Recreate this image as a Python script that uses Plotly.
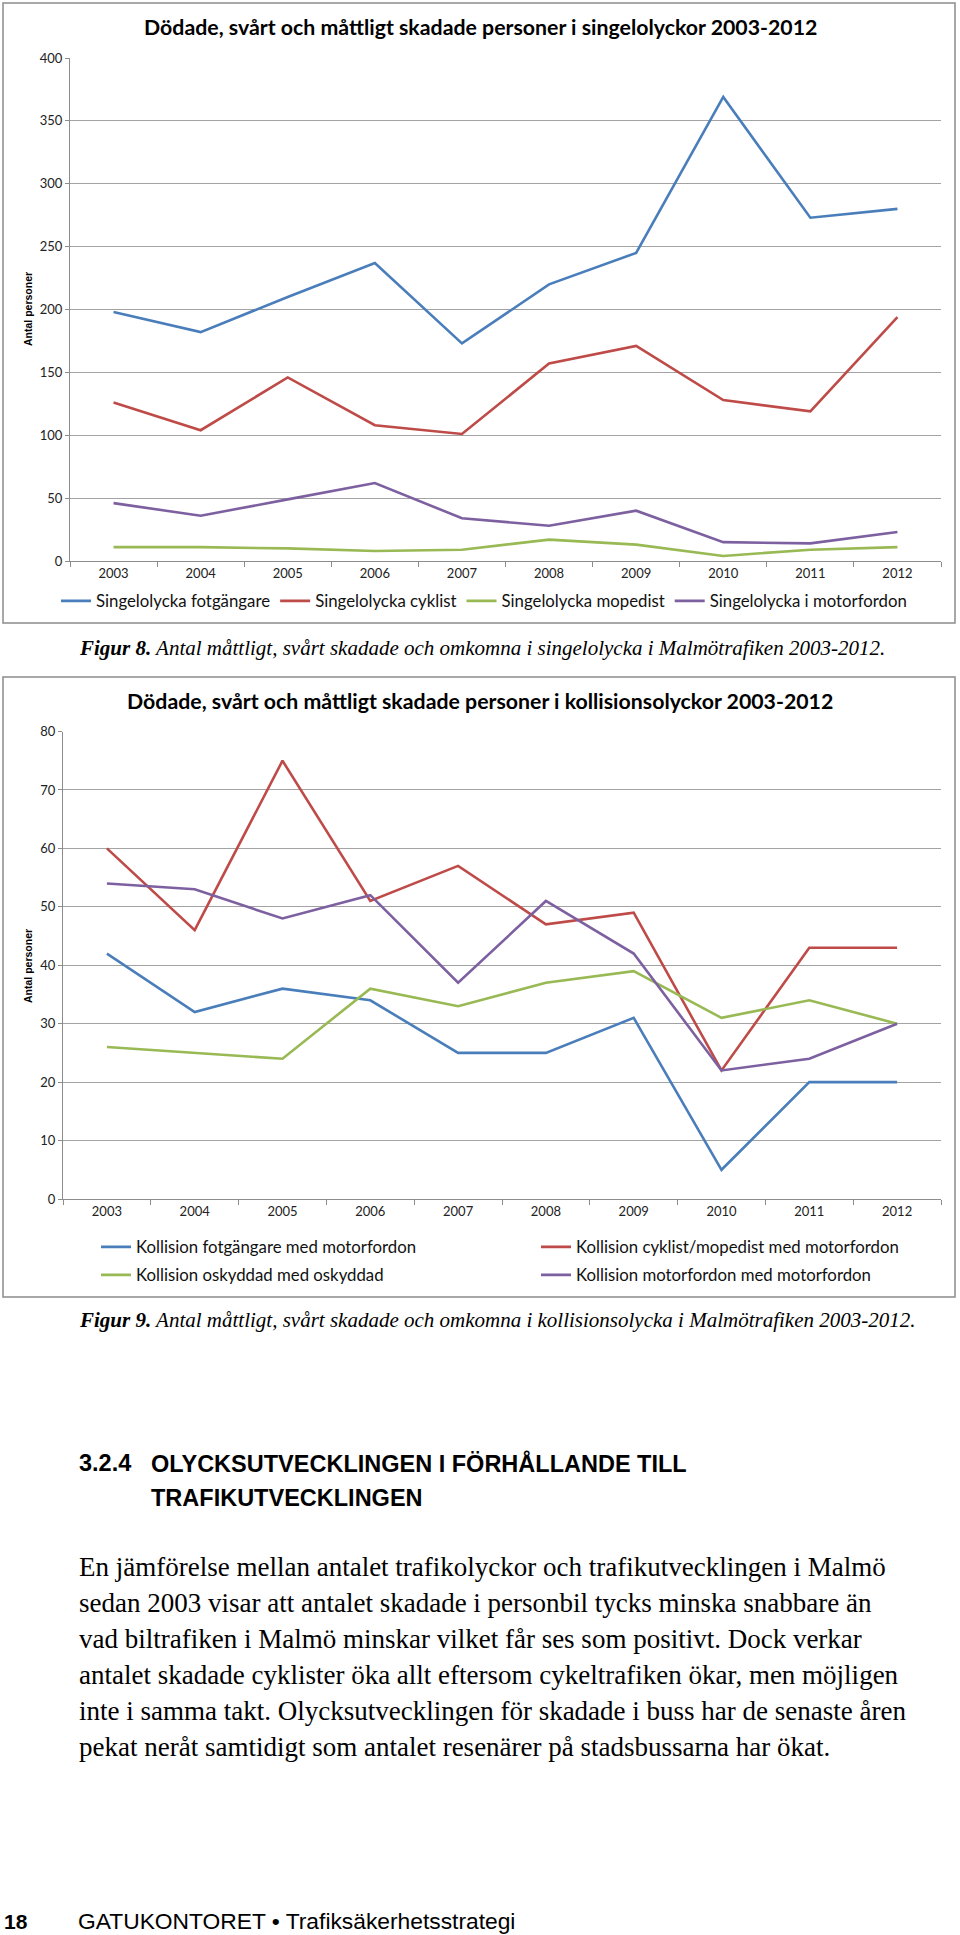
import plotly.graph_objects as go

W, H = 960, 1935

years = ["2003", "2004", "2005", "2006", "2007", "2008", "2009", "2010", "2011", "2012"]

# Figur 8 - singelolyckor
singel_names = ["Singelolycka fotgängare", "Singelolycka cyklist",
                "Singelolycka mopedist", "Singelolycka i motorfordon"]
singel_fotgangare = [198, 182, 210, 237, 173, 220, 245, 369, 273, 280]
singel_cyklist = [126, 104, 146, 108, 101, 157, 171, 128, 119, 194]
singel_mopedist = [11, 11, 10, 8, 9, 17, 13, 4, 9, 11]
singel_motorfordon = [46, 36, 49, 62, 34, 28, 40, 15, 14, 23]

# Figur 9 - kollisionsolyckor
koll_names = ["Kollision fotgängare med motorfordon", "Kollision cyklist/mopedist med motorfordon",
              "Kollision oskyddad med oskyddad", "Kollision motorfordon med motorfordon"]
koll_fotgangare = [42, 32, 36, 34, 25, 25, 31, 5, 20, 20]
koll_cyklist = [60, 46, 75, 51, 57, 47, 49, 22, 43, 43]
koll_oskyddad = [26, 25, 24, 36, 33, 37, 39, 31, 34, 30]
koll_motorfordon = [54, 53, 48, 52, 37, 51, 42, 22, 24, 30]

colors = ["#4A7EBB", "#BE4B48", "#98B954", "#7D60A0"]

chart_font = "Lato, Carlito, Calibri, 'Liberation Sans', sans-serif"
serif_font = "'Liberation Serif', 'DejaVu Serif', serif"
narrow_font = "'Liberation Sans Narrow', 'Arial Narrow', 'Liberation Sans', sans-serif"


def px(x):
    return x / W


def py(y):
    return 1 - y / H


fig = go.Figure()

singel = [singel_fotgangare, singel_cyklist, singel_mopedist, singel_motorfordon]
for name, vals, c in zip(singel_names, singel, colors):
    fig.add_trace(go.Scatter(x=years, y=vals, name=name, mode="lines",
                             line=dict(color=c, width=2.6),
                             xaxis="x", yaxis="y", legend="legend"))

koll = [koll_fotgangare, koll_cyklist, koll_oskyddad, koll_motorfordon]
koll_leg = ["legend2", "legend3", "legend4", "legend5"]
for name, vals, c, lg in zip(koll_names, koll, colors, koll_leg):
    fig.add_trace(go.Scatter(x=years, y=vals, name=name, mode="lines",
                             line=dict(color=c, width=2.6),
                             xaxis="x2", yaxis="y2", legend=lg))

axis_common_x = dict(type="category", range=[-0.5, 9.5], showgrid=False, showline=True,
                     linecolor="#8C8C8C", linewidth=1, ticks="outside", ticklen=5,
                     tickcolor="#8C8C8C", tickson="boundaries", automargin=False,
                     tickfont=dict(family=chart_font, size=13, color="#222"),
                     fixedrange=True)
axis_common_y = dict(showgrid=True, gridcolor="#A3A3A3", gridwidth=1, showline=True,
                     linecolor="#8C8C8C", linewidth=1, ticks="outside", ticklen=4,
                     tickcolor="#8C8C8C", zeroline=False, automargin=False,
                     tickfont=dict(family=chart_font, size=13, color="#222"), fixedrange=True)

legend_common = dict(orientation="h", bgcolor="rgba(0,0,0,0)", xanchor="left", yanchor="middle",
                     font=dict(family=chart_font, size=16.8, color="#111"), itemclick=False,
                     itemdoubleclick=False)

fig.update_layout(
    width=W, height=H, margin=dict(l=0, r=0, t=0, b=0, pad=0, autoexpand=False),
    paper_bgcolor="white", plot_bgcolor="white", showlegend=True,
    xaxis=dict(domain=[px(70), px(941)], anchor="y", **axis_common_x),
    yaxis=dict(domain=[py(561), py(58)], anchor="x", range=[0, 400], dtick=50, **axis_common_y),
    xaxis2=dict(domain=[px(63), px(941)], anchor="y2", **axis_common_x),
    yaxis2=dict(domain=[py(1199), py(731.5)], anchor="x2", range=[0, 80], dtick=10, **axis_common_y),
    legend=dict(x=px(56), y=py(601), **legend_common),
    legend2=dict(x=px(96), y=py(1247), **legend_common),
    legend3=dict(x=px(536), y=py(1247), **legend_common),
    legend4=dict(x=px(96), y=py(1275), **legend_common),
    legend5=dict(x=px(536), y=py(1275), **legend_common),
)

# chart borders
for (x0, y0, x1, y1) in [(3, 3, 955, 623), (3, 677, 955, 1297)]:
    fig.add_shape(type="rect", xref="paper", yref="paper", x0=px(x0), x1=px(x1), y0=py(y0), y1=py(y1),
                  line=dict(color="#8C8C8C", width=1.5), fillcolor="rgba(0,0,0,0)", layer="below")

ann = []
# chart titles
ann.append(dict(text="<b>Dödade, svårt och måttligt skadade personer i singelolyckor 2003-2012</b>",
                x=px(480), y=py(27), xanchor="center",
                font=dict(family=chart_font, size=21.3, color="#000")))
ann.append(dict(text="<b>Dödade, svårt och måttligt skadade personer i kollisionsolyckor 2003-2012</b>",
                x=px(480), y=py(701), xanchor="center",
                font=dict(family=chart_font, size=21.3, color="#000")))
# axis titles
for yc in [309, 966]:
    ann.append(dict(text="<b>Antal personer</b>", x=px(28), y=py(yc), textangle=-90, xanchor="center",
                    font=dict(family="'Liberation Sans', Arial, sans-serif", size=10.5, color="#000")))
# captions
ann.append(dict(text="<b>Figur 8.</b> Antal måttligt, svårt skadade och omkomna i singelolycka i Malmötrafiken 2003-2012.",
                x=px(77), y=py(648), xanchor="left",
                font=dict(family=serif_font, size=21, color="#000", style="italic")))
ann.append(dict(text="<b>Figur 9.</b> Antal måttligt, svårt skadade och omkomna i kollisionsolycka i Malmötrafiken 2003-2012.",
                x=px(77), y=py(1320), xanchor="left",
                font=dict(family=serif_font, size=21, color="#000", style="italic")))
# heading
ann.append(dict(text="<b>3.2.4</b>", x=px(77), y=py(1463), xanchor="left",
                font=dict(family=narrow_font, size=23.5, color="#000")))
ann.append(dict(text="<b>OLYCKSUTVECKLINGEN I FÖRHÅLLANDE TILL</b>", x=px(149), y=py(1463), xanchor="left",
                font=dict(family=narrow_font, size=23.5, color="#000")))
ann.append(dict(text="<b>TRAFIKUTVECKLINGEN</b>", x=px(149), y=py(1498), xanchor="left",
                font=dict(family=narrow_font, size=23.5, color="#000")))
# body text
body_lines = [
    "En jämförelse mellan antalet trafikolyckor och trafikutvecklingen i Malmö",
    "sedan 2003 visar att antalet skadade i personbil tycks minska snabbare än",
    "vad biltrafiken i Malmö minskar vilket får ses som positivt. Dock verkar",
    "antalet skadade cyklister öka allt eftersom cykeltrafiken ökar, men möjligen",
    "inte i samma takt. Olycksutvecklingen för skadade i buss har de senaste åren",
    "pekat neråt samtidigt som antalet resenärer på stadsbussarna har ökat.",
]
body_y = [1567, 1603, 1639, 1675, 1711, 1747]
for t, yy in zip(body_lines, body_y):
    ann.append(dict(text=t, x=px(77), y=py(yy), xanchor="left",
                    font=dict(family=serif_font, size=27, color="#000")))
# footer
ann.append(dict(text="<b>18</b>", x=px(2), y=py(1921), xanchor="left",
                font=dict(family=narrow_font, size=21, color="#000")))
ann.append(dict(text="GATUKONTORET • Trafiksäkerhetsstrategi", x=px(76), y=py(1921), xanchor="left",
                font=dict(family=narrow_font, size=22.8, color="#000")))

for a in ann:
    a.setdefault("xref", "paper")
    a.setdefault("yref", "paper")
    a.setdefault("showarrow", False)
    a.setdefault("yanchor", "middle")
    fig.add_annotation(**a)

fig.write_html("out.html", config={"displayModeBar": False},
               post_script="document.body.style.margin='0';document.body.style.overflow='hidden';")
